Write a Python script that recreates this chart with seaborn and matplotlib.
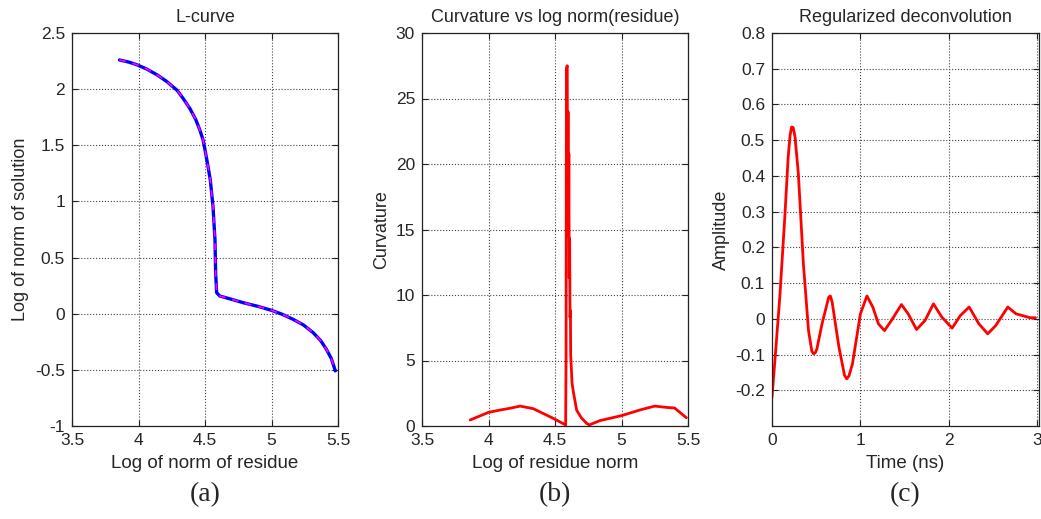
import numpy as np
import pandas as pd
import matplotlib
matplotlib.use("Agg")
import matplotlib.pyplot as plt
import seaborn as sns

# ---- data ----
lc_residue = [3.857, 3.93, 3.99, 4.06, 4.14, 4.21, 4.29, 4.34, 4.39, 4.43, 4.46, 4.485,
              4.50, 4.52, 4.54, 4.56, 4.575, 4.58, 4.5875, 4.6125, 4.65, 4.70, 4.7875,
              4.90, 5.0, 5.08, 5.1625, 5.24, 5.3125, 5.37, 5.4125, 5.45, 5.48]
lc_solution = [2.26, 2.24, 2.216, 2.18, 2.127, 2.07, 1.99, 1.91, 1.82, 1.73, 1.64, 1.55,
               1.46, 1.33, 1.19, 0.957, 0.66, 0.365, 0.187, 0.157, 0.145, 0.128, 0.098,
               0.065, 0.03, -0.005, -0.05, -0.10, -0.168, -0.24, -0.316, -0.40, -0.509]

curv_residue = [3.8625, 4.0, 4.0875, 4.16, 4.2375, 4.3375, 4.4875, 4.58, 4.583, 4.586,
                4.592, 4.595, 4.598, 4.601, 4.604, 4.607, 4.610, 4.613, 4.616, 4.618,
                4.628, 4.638, 4.663, 4.70, 4.738, 4.7575, 4.8375, 5.0, 5.1375, 5.25,
                5.3375, 5.40, 5.4875]
curvature = [0.46, 1.04, 1.22, 1.35, 1.52, 1.32, 0.58, 0.08, 5.0, 27.3,
             27.5, 16.4, 24.0, 14.5, 20.8, 11.3, 14.3, 8.3, 8.8, 5.4,
             3.3, 2.6, 1.2, 0.6, 0.2, 0.08, 0.41, 0.79, 1.22, 1.52,
             1.42, 1.37, 0.63]

time_ns = [0.0, 0.03, 0.088, 0.145, 0.183, 0.205, 0.222, 0.24, 0.26, 0.298, 0.355,
           0.413, 0.45, 0.47, 0.49, 0.508, 0.566, 0.642, 0.66, 0.68, 0.757, 0.82,
           0.845, 0.87, 0.91, 1.0, 1.074, 1.14, 1.204, 1.272, 1.35, 1.464, 1.54,
           1.635, 1.73, 1.826, 1.92, 2.037, 2.13, 2.23, 2.34, 2.44, 2.53, 2.667,
           2.76, 2.92, 2.98]
amplitude = [-0.22, -0.126, 0.06, 0.285, 0.453, 0.515, 0.537, 0.535, 0.51, 0.407, 0.154,
             -0.033, -0.09, -0.098, -0.095, -0.084, -0.014, 0.061, 0.064, 0.047, -0.079, -0.158,
             -0.168, -0.16, -0.126, 0.014, 0.064, 0.033, -0.014, -0.033, -0.005, 0.04, 0.014,
             -0.03, -0.005, 0.042, 0.005, -0.026, 0.009, 0.033, -0.014, -0.042, -0.019, 0.033,
             0.014, 0.003, 0.003]

titles = ["L-curve", "Curvature vs log norm(residue)", "Regularized deconvolution"]
xlabels = ["Log of norm of residue", "Log of residue norm", "Time (ns)"]
ylabels = ["Log of norm of solution", "Curvature", "Amplitude"]
panel_tags = ["(a)", "(b)", "(c)"]

# ---- style ----
sns.set_style("whitegrid", {
    "grid.linestyle": ":", "grid.color": "#555555", "axes.edgecolor": "#222222",
    "xtick.direction": "in", "ytick.direction": "in",
    "xtick.bottom": True, "ytick.left": True,
})
plt.rcParams["font.family"] = ["Liberation Sans", "DejaVu Sans"]

W, H = 1041, 519
fig = plt.figure(figsize=(W / 100, H / 100), dpi=100)

boxes = [(72, 338), (422, 688), (772, 1039)]
top, bottom = 33, 426
axes = []
for (l, r) in boxes:
    ax = fig.add_axes([l / W, (H - bottom) / H, (r - l) / W, (bottom - top) / H])
    axes.append(ax)

# (a) L-curve
df_a = pd.DataFrame({"res": lc_residue, "sol": lc_solution})
sns.lineplot(data=df_a, x="res", y="sol", ax=axes[0], color="blue", lw=2.4,
             sort=False, estimator=None)
axes[0].plot(df_a["res"], df_a["sol"], color="magenta", lw=1.2, ls=(0, (4, 4)))
axes[0].set_xlim(3.5, 5.5)
axes[0].set_ylim(-1, 2.5)
axes[0].set_xticks([3.5, 4, 4.5, 5, 5.5])
axes[0].set_xticklabels(["3.5", "4", "4.5", "5", "5.5"])
axes[0].set_yticks([-1, -0.5, 0, 0.5, 1, 1.5, 2, 2.5])
axes[0].set_yticklabels(["-1", "-0.5", "0", "0.5", "1", "1.5", "2", "2.5"])

# (b) curvature
df_b = pd.DataFrame({"res": curv_residue, "curv": curvature})
sns.lineplot(data=df_b, x="res", y="curv", ax=axes[1], color="red", lw=2.0,
             sort=False, estimator=None)
axes[1].set_xlim(3.5, 5.5)
axes[1].set_ylim(0, 30)
axes[1].set_xticks([3.5, 4, 4.5, 5, 5.5])
axes[1].set_xticklabels(["3.5", "4", "4.5", "5", "5.5"])
axes[1].set_yticks([0, 5, 10, 15, 20, 25, 30])

# (c) deconvolution
df_c = pd.DataFrame({"t": time_ns, "amp": amplitude})
sns.lineplot(data=df_c, x="t", y="amp", ax=axes[2], color="red", lw=2.0,
             sort=False, estimator=None)
axes[2].set_xlim(0, 3.02)
axes[2].set_ylim(-0.3, 0.8)
axes[2].set_xticks([0, 1, 2, 3])
axes[2].set_yticks([-0.2, -0.1, 0, 0.1, 0.2, 0.3, 0.4, 0.5, 0.6, 0.7, 0.8])
axes[2].set_yticklabels(["-0.2", "-0.1", "0", "0.1", "0.2", "0.3", "0.4", "0.5", "0.6", "0.7", "0.8"])

for ax, t, xl, yl, tag, (l, r) in zip(axes, titles, xlabels, ylabels, panel_tags, boxes):
    ax.set_title(t, fontsize=13, pad=8)
    ax.set_xlabel(xl, fontsize=13.5, labelpad=5)
    ax.set_ylabel(yl, fontsize=13, labelpad=4)
    ax.tick_params(axis="both", which="both", direction="in", length=4, width=0.8,
                   top=True, right=True, labelsize=12.5, pad=5, color="#222222")
    ax.grid(True, linestyle=":", color="#444444", linewidth=0.8)
    for s in ax.spines.values():
        s.set_visible(True)
        s.set_linewidth(0.9)
        s.set_color("#222222")
    fig.text((l + r) / 2 / W, 1 - 495 / H, tag, ha="center", va="center",
             fontsize=20, family=["Liberation Serif", "DejaVu Serif"])

fig.savefig("out.png", dpi=100)
